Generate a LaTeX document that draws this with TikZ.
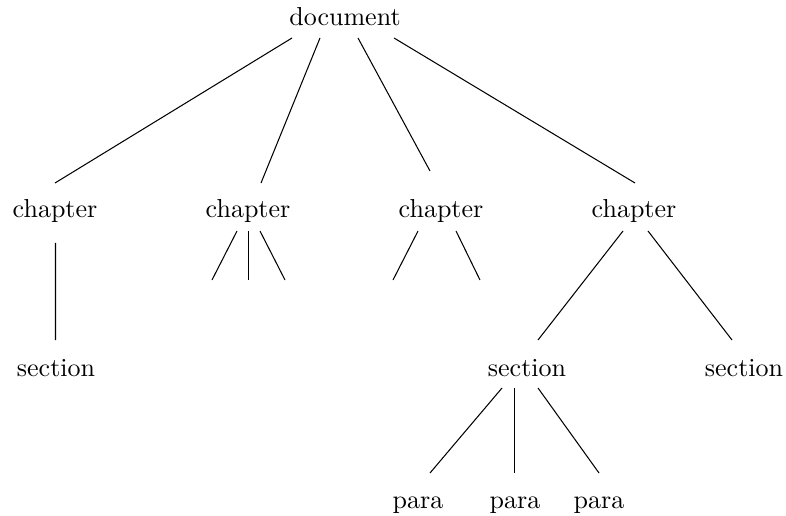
\documentclass[tikz,border=0pt]{standalone}
\usetikzlibrary{calc}

\begin{document}
\begin{tikzpicture}[x=0.013514cm, y=-0.013514cm,
    tnode/.style={anchor=base, inner sep=0pt}]
  \useasboundingbox (0,0) rectangle (786,516);
  % ================================================================ nodes
  \node[tnode] (doc) at (345,26) {document};
  \node[tnode] (ch1) at (55,218)  {chapter};
  \node[tnode] (ch2) at (248,218) {chapter};
  \node[tnode] (ch3) at (441,218) {chapter};
  \node[tnode] (ch4) at (634,218) {chapter};
  \node[tnode] (sec1) at (56,376)  {section};
  \node[tnode] (sec2) at (527,376) {section};
  \node[tnode] (sec3) at (744,376) {section};
  \node[tnode] (par1) at (418,508) {para};
  \node[tnode] (par2) at (515,508) {para};
  \node[tnode] (par3) at (599,508) {para};
  % free ends of the empty branches
  \coordinate (c2a) at (212,280);
  \coordinate (c2b) at (248.5,280);
  \coordinate (c2c) at (285,280);
  \coordinate (c3a) at (393,280);
  \coordinate (c3b) at (480,280);
  % ================================================================ edges
  \draw ($(doc.base)+(-53,12)$) -- ($(ch1.base)+(0,-35)$);
  \draw ($(doc.base)+(-25,12)$) -- ($(ch2.base)+(13,-35)$);
  \draw ($(doc.base)+(13,12)$)  -- ($(ch3.base)+(-11,-47)$);
  \draw ($(doc.base)+(49,12)$)  -- ($(ch4.base)+(1,-35)$);
  \draw ($(ch1.base)+(0.5,25)$) -- ($(sec1.base)+(-0.5,-36)$);
  \foreach \dx/\e in {-11/c2a, 0.5/c2b, 12/c2c}
    \draw ($(ch2.base)+(\dx,13)$) -- (\e);
  \foreach \dx/\e in {-23/c3a, 15/c3b}
    \draw ($(ch3.base)+(\dx,13)$) -- (\e);
  \draw ($(ch4.base)+(-11,13)$) -- ($(sec2.base)+(11,-36)$);
  \draw ($(ch4.base)+(14,13)$)  -- ($(sec3.base)+(-12,-36)$);
  \draw ($(sec2.base)+(-25,12)$) -- ($(par1.base)+(12,-35)$);
  \draw ($(sec2.base)+(-12.5,12)$) -- ($(par2.base)+(-0.5,-35)$);
  \draw ($(sec2.base)+(11,12)$)  -- ($(par3.base)+(0,-35)$);
\end{tikzpicture}
\end{document}
